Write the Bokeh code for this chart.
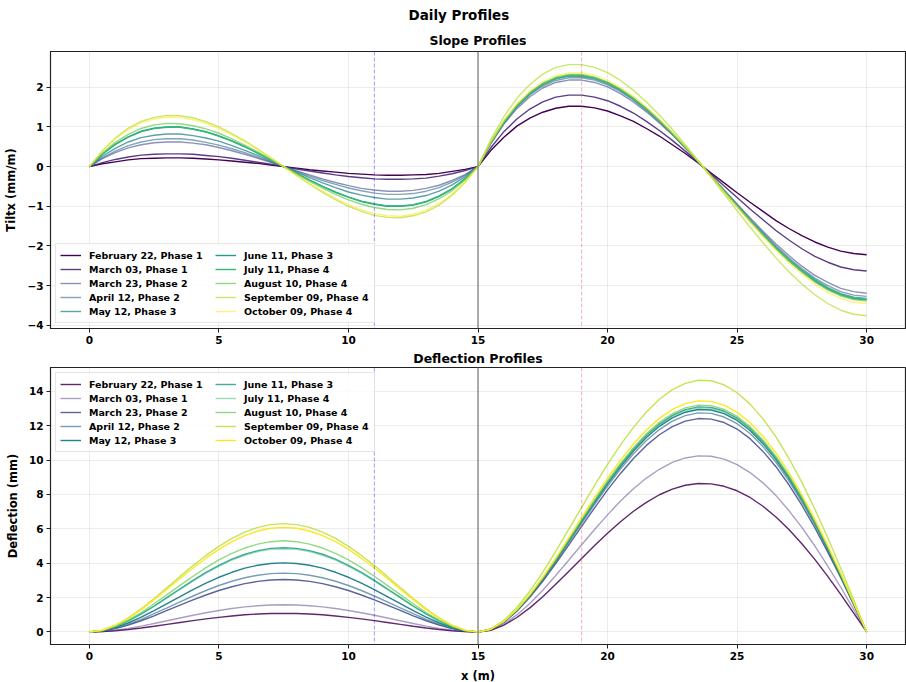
from bokeh.plotting import figure
from bokeh.layouts import column
from bokeh.models import Span, Legend, LegendItem, Title, CustomJSTickFormatter
from bokeh.embed import file_html
from bokeh.resources import INLINE

# ---------------- data (0.5 m steps) ----------------
X = [0, 0.5, 1, 1.5, 2, 2.5, 3, 3.5, 4, 4.5, 5, 5.5, 6, 6.5, 7, 7.5, 8, 8.5, 9, 9.5,
     10, 10.5, 11, 11.5, 12, 12.5, 13, 13.5, 14, 14.5, 15, 15.5, 16, 16.5, 17, 17.5,
     18, 18.5, 19, 19.5, 20, 20.5, 21, 21.5, 22, 22.5, 23, 23.5, 24, 24.5, 25, 25.5,
     26, 26.5, 27, 27.5, 28, 28.5, 29, 29.5, 30]

LABELS = ["February 22, Phase 1", "March 03, Phase 1", "March 23, Phase 2",
          "April 12, Phase 2", "May 12, Phase 3", "June 11, Phase 3",
          "July 11, Phase 4", "August 10, Phase 4", "September 09, Phase 4",
          "October 09, Phase 4"]

slope_feb22 = [0, 0.07, 0.12, 0.17, 0.20, 0.21, 0.22, 0.22, 0.21, 0.19, 0.17, 0.14, 0.11, 0.08, 0.04, 0,
               -0.04, -0.08, -0.11, -0.14, -0.17, -0.19, -0.21, -0.22, -0.22, -0.21, -0.20, -0.17, -0.12, -0.07, 0,
               0.41, 0.74, 1.02, 1.22, 1.37, 1.47, 1.52, 1.52, 1.48, 1.40, 1.28, 1.14, 0.96, 0.77, 0.55,
               0.33, 0.09, -0.16, -0.41, -0.66, -0.90, -1.13, -1.36, -1.56, -1.74, -1.90, -2.03, -2.13, -2.19, -2.22]
slope_mar03 = [0, 0.10, 0.18, 0.24, 0.29, 0.31, 0.32, 0.32, 0.31, 0.28, 0.25, 0.21, 0.16, 0.11, 0.06, 0,
               -0.06, -0.11, -0.16, -0.21, -0.25, -0.28, -0.31, -0.32, -0.32, -0.31, -0.29, -0.24, -0.18, -0.10, 0,
               0.48, 0.88, 1.20, 1.45, 1.63, 1.75, 1.80, 1.80, 1.75, 1.66, 1.52, 1.35, 1.14, 0.91, 0.66,
               0.39, 0.10, -0.19, -0.49, -0.78, -1.07, -1.34, -1.61, -1.85, -2.07, -2.26, -2.41, -2.53, -2.60, -2.63]
slope_mar23 = [0, 0.20, 0.35, 0.47, 0.55, 0.60, 0.62, 0.62, 0.59, 0.55, 0.48, 0.40, 0.31, 0.21, 0.11, 0,
               -0.11, -0.21, -0.31, -0.40, -0.48, -0.55, -0.59, -0.62, -0.62, -0.60, -0.55, -0.47, -0.35, -0.20, 0,
               0.58, 1.07, 1.46, 1.76, 1.98, 2.12, 2.18, 2.18, 2.12, 2.01, 1.84, 1.63, 1.38, 1.10, 0.80,
               0.47, 0.12, -0.23, -0.59, -0.94, -1.29, -1.63, -1.95, -2.24, -2.51, -2.74, -2.92, -3.07, -3.15, -3.19]
slope_apr12 = [0, 0.22, 0.39, 0.53, 0.62, 0.68, 0.70, 0.70, 0.67, 0.61, 0.54, 0.45, 0.35, 0.24, 0.12, 0,
               -0.12, -0.24, -0.35, -0.45, -0.54, -0.61, -0.67, -0.70, -0.70, -0.68, -0.62, -0.53, -0.39, -0.22, 0,
               0.60, 1.10, 1.50, 1.81, 2.03, 2.17, 2.24, 2.24, 2.18, 2.06, 1.89, 1.68, 1.42, 1.13, 0.82,
               0.48, 0.13, -0.24, -0.60, -0.97, -1.33, -1.67, -2.00, -2.30, -2.57, -2.81, -3.00, -3.15, -3.24, -3.27]
slope_may12 = [0, 0.26, 0.46, 0.62, 0.73, 0.79, 0.82, 0.82, 0.78, 0.72, 0.64, 0.53, 0.41, 0.28, 0.14, 0,
               -0.14, -0.28, -0.41, -0.53, -0.64, -0.72, -0.78, -0.82, -0.82, -0.79, -0.73, -0.62, -0.46, -0.26, 0,
               0.61, 1.11, 1.52, 1.83, 2.06, 2.21, 2.28, 2.27, 2.21, 2.09, 1.92, 1.70, 1.44, 1.15, 0.83,
               0.49, 0.13, -0.24, -0.61, -0.98, -1.35, -1.70, -2.03, -2.34, -2.61, -2.85, -3.05, -3.20, -3.29, -3.32]
slope_jun11 = [0, 0.31, 0.56, 0.75, 0.89, 0.97, 1.00, 1.00, 0.95, 0.88, 0.77, 0.65, 0.50, 0.34, 0.17, 0,
               -0.17, -0.34, -0.50, -0.65, -0.77, -0.88, -0.95, -1.00, -1.00, -0.97, -0.89, -0.75, -0.56, -0.31, 0,
               0.62, 1.13, 1.54, 1.86, 2.09, 2.23, 2.30, 2.30, 2.24, 2.12, 1.94, 1.72, 1.46, 1.16, 0.84,
               0.49, 0.13, -0.24, -0.62, -1.00, -1.36, -1.72, -2.06, -2.37, -2.64, -2.89, -3.09, -3.23, -3.33, -3.36]
slope_jul11 = [0, 0.31, 0.56, 0.74, 0.88, 0.96, 0.99, 0.99, 0.94, 0.87, 0.77, 0.64, 0.50, 0.34, 0.17, 0,
               -0.17, -0.34, -0.50, -0.64, -0.77, -0.87, -0.94, -0.99, -0.99, -0.96, -0.88, -0.74, -0.56, -0.31, 0,
               0.61, 1.12, 1.53, 1.85, 2.08, 2.22, 2.29, 2.29, 2.23, 2.11, 1.93, 1.71, 1.45, 1.16, 0.84,
               0.49, 0.13, -0.24, -0.62, -0.99, -1.36, -1.71, -2.05, -2.35, -2.63, -2.87, -3.07, -3.22, -3.31, -3.35]
slope_aug10 = [0, 0.34, 0.61, 0.81, 0.96, 1.05, 1.09, 1.08, 1.03, 0.95, 0.84, 0.70, 0.54, 0.37, 0.19, 0,
               -0.19, -0.37, -0.54, -0.70, -0.84, -0.95, -1.03, -1.08, -1.09, -1.05, -0.96, -0.81, -0.61, -0.34, 0,
               0.62, 1.14, 1.55, 1.87, 2.10, 2.25, 2.32, 2.32, 2.25, 2.13, 1.96, 1.73, 1.47, 1.17, 0.85,
               0.50, 0.13, -0.24, -0.62, -1.00, -1.37, -1.73, -2.07, -2.38, -2.66, -2.91, -3.11, -3.26, -3.35, -3.39]
slope_sep09 = [0, 0.40, 0.72, 0.97, 1.14, 1.24, 1.29, 1.28, 1.23, 1.13, 1.00, 0.83, 0.65, 0.44, 0.22, 0,
               -0.22, -0.44, -0.65, -0.83, -1.00, -1.13, -1.23, -1.28, -1.29, -1.24, -1.14, -0.97, -0.72, -0.40, 0,
               0.69, 1.26, 1.72, 2.07, 2.33, 2.50, 2.57, 2.57, 2.50, 2.37, 2.17, 1.92, 1.63, 1.30, 0.94,
               0.55, 0.15, -0.27, -0.69, -1.11, -1.53, -1.92, -2.30, -2.65, -2.96, -3.23, -3.45, -3.62, -3.72, -3.76]
slope_oct09 = [0, 0.39, 0.70, 0.93, 1.10, 1.20, 1.25, 1.24, 1.18, 1.09, 0.96, 0.80, 0.62, 0.43, 0.22, 0,
               -0.22, -0.43, -0.62, -0.80, -0.96, -1.09, -1.18, -1.24, -1.25, -1.20, -1.10, -0.93, -0.70, -0.39, 0,
               0.63, 1.16, 1.58, 1.90, 2.14, 2.29, 2.36, 2.36, 2.30, 2.17, 1.99, 1.77, 1.50, 1.20, 0.86,
               0.51, 0.14, -0.25, -0.64, -1.02, -1.40, -1.76, -2.11, -2.43, -2.71, -2.96, -3.17, -3.32, -3.42, -3.45]

defl_feb22 = [0, 0.02, 0.07, 0.14, 0.23, 0.33, 0.44, 0.55, 0.66, 0.76, 0.85, 0.93, 1.00, 1.04, 1.07, 1.08,
              1.07, 1.04, 1.00, 0.93, 0.85, 0.76, 0.66, 0.55, 0.44, 0.33, 0.23, 0.14, 0.07, 0.02, 0,
              0.10, 0.40, 0.84, 1.40, 2.05, 2.77, 3.52, 4.27, 5.03, 5.74, 6.41, 7.02, 7.54, 7.98, 8.31,
              8.53, 8.63, 8.61, 8.47, 8.21, 7.82, 7.31, 6.69, 5.96, 5.13, 4.22, 3.23, 2.19, 1.10, 0]
defl_mar03 = [0, 0.03, 0.10, 0.21, 0.34, 0.49, 0.65, 0.81, 0.97, 1.12, 1.25, 1.36, 1.46, 1.52, 1.57, 1.58,
              1.57, 1.52, 1.46, 1.36, 1.25, 1.12, 0.97, 0.81, 0.65, 0.49, 0.34, 0.21, 0.10, 0.03, 0,
              0.12, 0.47, 0.99, 1.66, 2.43, 3.28, 4.17, 5.07, 5.96, 6.81, 7.61, 8.33, 8.95, 9.46, 9.86,
              10.12, 10.24, 10.22, 10.05, 9.73, 9.27, 8.67, 7.93, 7.06, 6.08, 5.00, 3.83, 2.60, 1.31, 0]
defl_mar23 = [0, 0.05, 0.19, 0.40, 0.65, 0.94, 1.25, 1.56, 1.87, 2.15, 2.41, 2.63, 2.81, 2.94, 3.02, 3.05,
              3.02, 2.94, 2.81, 2.63, 2.41, 2.15, 1.87, 1.56, 1.25, 0.94, 0.65, 0.40, 0.19, 0.05, 0,
              0.15, 0.57, 1.20, 2.01, 2.95, 3.97, 5.05, 6.14, 7.22, 8.26, 9.22, 10.09, 10.85, 11.47, 11.94,
              12.26, 12.41, 12.38, 12.18, 11.80, 11.24, 10.50, 9.61, 8.56, 7.37, 6.06, 4.64, 3.15, 1.59, 0]
defl_apr12 = [0, 0.06, 0.21, 0.44, 0.73, 1.06, 1.40, 1.75, 2.09, 2.41, 2.70, 2.95, 3.15, 3.30, 3.39, 3.42,
              3.39, 3.30, 3.15, 2.95, 2.70, 2.41, 2.09, 1.75, 1.40, 1.06, 0.73, 0.44, 0.21, 0.06, 0,
              0.15, 0.58, 1.24, 2.07, 3.03, 4.08, 5.19, 6.31, 7.42, 8.48, 9.47, 10.36, 11.13, 11.77, 12.26,
              12.58, 12.74, 12.71, 12.50, 12.11, 11.54, 10.78, 9.87, 8.79, 7.57, 6.22, 4.77, 3.23, 1.63, 0]
defl_may12 = [0, 0.07, 0.25, 0.52, 0.86, 1.24, 1.65, 2.06, 2.46, 2.84, 3.18, 3.47, 3.71, 3.88, 3.98, 4.02,
              3.98, 3.88, 3.71, 3.47, 3.18, 2.84, 2.46, 2.06, 1.65, 1.24, 0.86, 0.52, 0.25, 0.07, 0,
              0.16, 0.59, 1.26, 2.10, 3.07, 4.14, 5.27, 6.41, 7.53, 8.61, 9.61, 10.52, 11.31, 11.96, 12.45,
              12.78, 12.94, 12.91, 12.70, 12.30, 11.72, 10.95, 10.02, 8.93, 7.69, 6.32, 4.84, 3.28, 1.66, 0]
defl_jun11 = [0, 0.08, 0.30, 0.64, 1.05, 1.51, 2.01, 2.51, 3.00, 3.46, 3.87, 4.23, 4.52, 4.73, 4.86, 4.90,
              4.86, 4.73, 4.52, 4.23, 3.87, 3.46, 3.00, 2.51, 2.01, 1.51, 1.05, 0.64, 0.30, 0.08, 0,
              0.16, 0.60, 1.27, 2.12, 3.11, 4.19, 5.33, 6.48, 7.62, 8.71, 9.73, 10.64, 11.44, 12.09, 12.60,
              12.93, 13.09, 13.06, 12.85, 12.44, 11.85, 11.08, 10.14, 9.03, 7.78, 6.39, 4.90, 3.32, 1.67, 0]
defl_jul11 = [0, 0.08, 0.30, 0.63, 1.03, 1.49, 1.98, 2.48, 2.96, 3.42, 3.82, 4.18, 4.46, 4.67, 4.80, 4.84,
              4.80, 4.67, 4.46, 4.18, 3.82, 3.42, 2.96, 2.48, 1.98, 1.49, 1.03, 0.63, 0.30, 0.08, 0,
              0.16, 0.60, 1.26, 2.11, 3.10, 4.17, 5.31, 6.45, 7.58, 8.67, 9.68, 10.59, 11.39, 12.04, 12.54,
              12.87, 13.03, 13.00, 12.79, 12.38, 11.80, 11.03, 10.09, 8.99, 7.74, 6.36, 4.88, 3.30, 1.67, 0]
defl_aug10 = [0, 0.09, 0.33, 0.69, 1.13, 1.64, 2.17, 2.71, 3.24, 3.74, 4.19, 4.57, 4.88, 5.11, 5.25, 5.30,
              5.25, 5.11, 4.88, 4.57, 4.19, 3.74, 3.24, 2.71, 2.17, 1.64, 1.13, 0.69, 0.33, 0.09, 0,
              0.16, 0.60, 1.28, 2.14, 3.13, 4.22, 5.37, 6.53, 7.68, 8.78, 9.80, 10.72, 11.53, 12.19, 12.69,
              13.03, 13.19, 13.16, 12.94, 12.54, 11.94, 11.16, 10.21, 9.10, 7.84, 6.44, 4.94, 3.34, 1.69, 0]
defl_sep09 = [0, 0.10, 0.39, 0.82, 1.35, 1.94, 2.58, 3.23, 3.86, 4.45, 4.98, 5.44, 5.81, 6.08, 6.24, 6.30,
              6.24, 6.08, 5.81, 5.44, 4.98, 4.45, 3.86, 3.23, 2.58, 1.94, 1.35, 0.82, 0.39, 0.10, 0,
              0.18, 0.67, 1.42, 2.37, 3.48, 4.69, 5.96, 7.25, 8.52, 9.74, 10.88, 11.90, 12.79, 13.53, 14.09,
              14.46, 14.64, 14.61, 14.37, 13.91, 13.25, 12.39, 11.34, 10.10, 8.70, 7.15, 5.48, 3.71, 1.87, 0]
defl_oct09 = [0, 0.10, 0.38, 0.79, 1.30, 1.88, 2.49, 3.11, 3.72, 4.29, 4.80, 5.25, 5.60, 5.87, 6.03, 6.08,
              6.03, 5.87, 5.60, 5.25, 4.80, 4.29, 3.72, 3.11, 2.49, 1.88, 1.30, 0.79, 0.38, 0.10, 0,
              0.16, 0.62, 1.30, 2.18, 3.19, 4.30, 5.47, 6.65, 7.82, 8.94, 9.99, 10.93, 11.75, 12.42, 12.94,
              13.28, 13.44, 13.41, 13.19, 12.77, 12.17, 11.38, 10.41, 9.27, 7.98, 6.56, 5.03, 3.41, 1.72, 0]

SLOPES = [slope_feb22, slope_mar03, slope_mar23, slope_apr12, slope_may12,
          slope_jun11, slope_jul11, slope_aug10, slope_sep09, slope_oct09]
DEFLS = [defl_feb22, defl_mar03, defl_mar23, defl_apr12, defl_may12,
         defl_jun11, defl_jul11, defl_aug10, defl_sep09, defl_oct09]

X_TICKS = [0, 5, 10, 15, 20, 25, 30]
SLOPE_TICKS = [-4, -3, -2, -1, 0, 1, 2]
DEFL_TICKS = [0, 2, 4, 6, 8, 10, 12, 14]
VLINE_BLUE = 11
VLINE_SUPPORT = 15
VLINE_RED = 19

# ---------------- style ----------------
COLORS = ["#440154", "#482878", "#3e4989", "#31688e", "#26828e",
          "#1f9e89", "#35b779", "#6ece58", "#b5de2b", "#fde725"]
ALPHA_TOP = [1.0, 0.9, 0.6, 0.6, 0.75, 1.0, 1.0, 0.75, 0.7, 0.6]
ALPHA_BOT = [0.85, 0.45, 0.85, 0.65, 1.0, 0.85, 0.5, 0.75, 0.8, 1.0]
FONT = "DejaVu Sans"

neg_fmt = CustomJSTickFormatter(code="""
    return tick < 0 ? "\u2212" + Math.abs(tick).toString() : tick.toString();
""")


def style_title(t, size, standoff):
    t.text_font = FONT
    t.text_font_style = "bold"
    t.text_font_size = size
    t.text_color = "black"
    t.standoff = standoff


def make_fig(ylabel, yticks, yrange, xlabel, bottom):
    p = figure(frame_width=855, frame_height=277, output_backend="svg",
               toolbar_location=None, x_range=(-1.5, 31.5), y_range=yrange,
               min_border_left=50, min_border_right=1, min_border_top=0,
               min_border_bottom=bottom)
    p.outline_line_color = "#222222"
    p.outline_line_width = 1.2
    p.background_fill_color = "white"
    p.border_fill_color = "white"
    for ax in (p.xaxis[0], p.yaxis[0]):
        ax.major_label_text_font = FONT
        ax.major_label_text_font_style = "bold"
        ax.major_label_text_font_size = "10.5px"
        ax.major_label_text_color = "black"
        ax.axis_label_text_font = FONT
        ax.axis_label_text_font_style = "bold"
        ax.axis_label_text_font_size = "11.5px"
        ax.axis_label_text_color = "black"
        ax.major_tick_in = 0
        ax.major_tick_out = 4
        ax.minor_tick_out = 0
        ax.minor_tick_in = 0
        ax.axis_line_color = "#222222"
        ax.major_tick_line_color = "#222222"
        ax.major_label_standoff = 3
        ax.axis_label_standoff = 6
        ax.formatter = neg_fmt
    p.xaxis.ticker = X_TICKS
    p.yaxis.ticker = yticks
    p.yaxis.axis_label = ylabel
    if xlabel:
        p.xaxis.axis_label = xlabel
    p.grid.grid_line_color = "#b0b0b0"
    p.grid.grid_line_alpha = 0.3
    p.grid.grid_line_width = 0.8

    p.add_layout(Span(location=VLINE_BLUE, dimension="height", line_color="blue",
                      line_dash="4 2", line_alpha=0.45, line_width=0.9))
    p.add_layout(Span(location=VLINE_SUPPORT, dimension="height", line_color="gray",
                      line_alpha=0.8, line_width=1.6))
    p.add_layout(Span(location=VLINE_RED, dimension="height", line_color="#d0605e",
                      line_dash="4 2", line_alpha=0.6, line_width=0.8))
    return p


def add_series(p, series, alphas, legend_loc):
    items = []
    for lab, ys, c, a in zip(LABELS, series, COLORS, alphas):
        r = p.line(X, ys, line_color=c, line_alpha=a, line_width=1.4)
        items.append(LegendItem(label=lab, renderers=[r]))
    leg = Legend(items=items, ncols=2, location=legend_loc,
                 label_text_font=FONT, label_text_font_style="bold",
                 label_text_font_size="9.5px", label_text_color="black",
                 label_height=14, glyph_height=14, glyph_width=21,
                 label_standoff=8, label_width=126, spacing=0, padding=4,
                 margin=5, border_line_color="#cccccc", border_line_width=1,
                 background_fill_alpha=0.85)
    p.add_layout(leg)


# top panel: the figure's own title is the outer one ("Daily Profiles")
p1 = make_fig("Tiltx (mm/m)", SLOPE_TICKS, (-4.08, 2.9), None, 0)
p1.title.text = "Daily Profiles"
p1.title.align = "left"
p1.title.offset = 358
style_title(p1.title, "13.5px", 8)
sub = Title(text="Slope Profiles", align="center")
style_title(sub, "12.5px", 8)
p1.add_layout(sub, "above")
add_series(p1, SLOPES, ALPHA_TOP, "bottom_left")

p2 = make_fig("Deflection (mm)", DEFL_TICKS, (-0.73, 15.38), "x (m)", 0)
p2.title.text = "Deflection Profiles"
p2.title.align = "center"
style_title(p2.title, "12.5px", 4)
add_series(p2, DEFLS, ALPHA_BOT, "top_left")

layout = column(p1, p2, spacing=0)
open("out.html", "w").write(file_html(layout, INLINE))
